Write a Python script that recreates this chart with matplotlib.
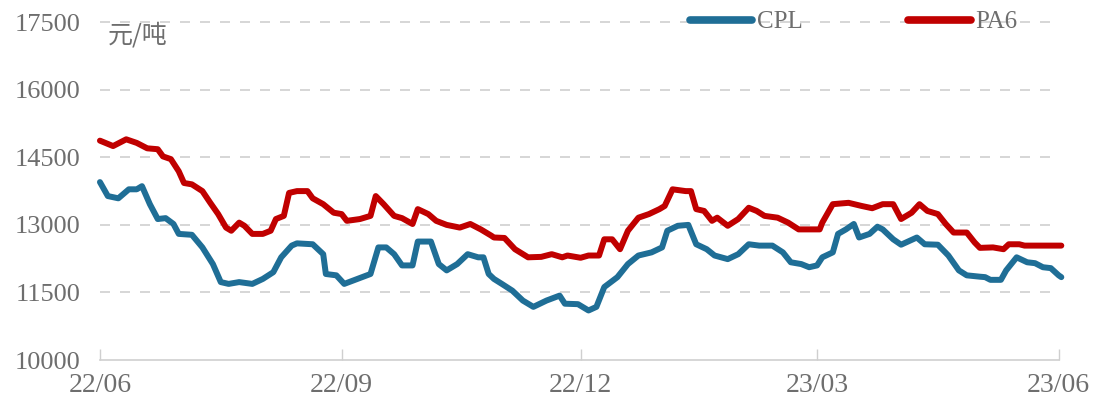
import numpy as np
import pandas as pd
import matplotlib
matplotlib.use("Agg")
import matplotlib.pyplot as plt

# days since 2022-06-01, values in 元/吨
pa6_day = [0, 5, 10, 14, 18, 22, 24, 27, 30, 32, 35, 39, 42, 45, 48, 50, 53, 55, 58, 62,
           65, 67, 70, 72, 75, 79, 81, 85, 89, 92, 94, 99, 103, 105, 108, 112, 115, 119, 121, 125,
           128, 132, 137, 141, 145, 149, 150, 154, 158, 163, 168, 172, 176, 178, 183, 186, 190, 192, 195, 198,
           201, 205, 209, 213, 215, 218, 223, 225, 227, 230, 233, 235, 239, 243, 247, 250, 253, 258, 262, 266,
           270, 274, 275, 279, 285, 290, 294, 298, 302, 305, 309, 312, 315, 319, 322, 325, 330, 333, 335, 340,
           344, 346, 350, 352, 366]
pa6_val = [14870, 14750, 14900, 14820, 14700, 14680, 14520, 14460, 14190, 13930, 13900, 13750, 13490, 13240, 12940, 12870, 13050, 12980, 12800, 12800,
           12870, 13130, 13200, 13710, 13750, 13750, 13590, 13460, 13270, 13240, 13090, 13130, 13200, 13640, 13460, 13200, 13150, 13020, 13350, 13240,
           13090, 13000, 12940, 13020, 12900, 12760, 12720, 12710, 12460, 12280, 12290, 12350, 12280, 12320, 12270, 12320, 12320, 12680, 12680, 12460,
           12870, 13160, 13240, 13350, 13420, 13790, 13750, 13750, 13350, 13310, 13090, 13160, 12980, 13130, 13380, 13310, 13200, 13160, 13050, 12900,
           12900, 12900, 13050, 13460, 13490, 13420, 13370, 13460, 13460, 13130, 13270, 13460, 13310, 13240, 13020, 12830, 12830, 12610, 12490, 12500,
           12460, 12570, 12570, 12540, 12540]

cpl_day = [0, 3, 7, 11, 14, 16, 19, 22, 25, 28, 30, 35, 39, 43, 46, 49, 53, 58, 62, 66,
           69, 73, 75, 81, 85, 86, 90, 93, 98, 103, 106, 109, 112, 115, 119, 121, 126, 129, 132, 136,
           140, 144, 146, 148, 150, 153, 157, 161, 165, 170, 175, 177, 182, 186, 189, 192, 197, 201, 205, 210,
           214, 216, 220, 224, 227, 231, 234, 239, 243, 247, 251, 256, 260, 263, 267, 270, 273, 275, 279, 281,
           284, 287, 289, 293, 296, 298, 302, 305, 311, 314, 319, 323, 327, 330, 335, 337, 339, 343, 345, 349,
           353, 356, 359, 362, 365, 366]
cpl_val = [13950, 13640, 13590, 13790, 13790, 13860, 13460, 13130, 13150, 13020, 12800, 12780, 12500, 12130, 11730, 11690, 11730, 11690, 11800, 11950,
           12280, 12540, 12590, 12570, 12350, 11910, 11880, 11690, 11800, 11910, 12500, 12500, 12350, 12100, 12100, 12630, 12630, 12130, 11990, 12130,
           12350, 12280, 12280, 11910, 11800, 11690, 11540, 11320, 11180, 11320, 11430, 11250, 11240, 11100, 11180, 11620, 11840, 12130, 12320, 12390,
           12500, 12870, 12980, 13000, 12570, 12460, 12320, 12240, 12350, 12570, 12540, 12540, 12390, 12170, 12130, 12060, 12100, 12280, 12390, 12800,
           12900, 13020, 12720, 12800, 12960, 12900, 12680, 12560, 12720, 12570, 12560, 12320, 11990, 11880, 11850, 11840, 11780, 11780, 11990, 12280,
           12170, 12150, 12060, 12040, 11880, 11840]

tick_dates = ["2022-06-01", "2022-09-01", "2022-12-01", "2023-03-01", "2023-06-01"]
tick_labels = ["22/06", "22/09", "22/12", "23/03", "23/06"]
y_ticks = [10000, 11500, 13000, 14500, 16000, 17500]

start = pd.Timestamp("2022-06-01")
pa6_x = start + pd.to_timedelta(pa6_day, unit="D")
cpl_x = start + pd.to_timedelta(cpl_day, unit="D")

grey = "#6E6E6E"
serif = "Liberation Serif"

fig = plt.figure(figsize=(11.02, 4.08), dpi=100)
ax = fig.add_axes([0.0907, 0.1176, 0.870, 0.828])

ax.plot(cpl_x, cpl_val, color="#1F6E96", lw=4.3, label="CPL", solid_capstyle="round",
        solid_joinstyle="round", clip_on=False, zorder=3)
ax.plot(pa6_x, pa6_val, color="#C00000", lw=4.3, label="PA6", solid_capstyle="round",
        solid_joinstyle="round", clip_on=False, zorder=3)

ax.set_ylim(10000, 17500)
ax.set_yticks(y_ticks)
ax.set_xlim(pd.Timestamp(tick_dates[0]), pd.Timestamp(tick_dates[-1]))
ax.set_xticks(pd.to_datetime(tick_dates))
ax.set_xticklabels(tick_labels)

for y in y_ticks[1:]:
    ax.axhline(y, color="#D0D0D0", lw=1.2, ls=(0, (6, 6)), zorder=1, clip_on=False)

for s in ["left", "right", "top"]:
    ax.spines[s].set_visible(False)
ax.spines["bottom"].set_color("#CFCFCF")
ax.spines["bottom"].set_linewidth(1.2)

ax.tick_params(axis="y", length=0, pad=14, labelsize=19, labelcolor=grey)
ax.tick_params(axis="x", direction="in", length=8, width=1, color="#CFCFCF",
               pad=9, labelsize=20, labelcolor=grey)
for lab in ax.get_xticklabels() + ax.get_yticklabels():
    lab.set_family(serif)

fig.text(0.098, 0.912, "元/吨", fontsize=18, color=grey, va="center", ha="left",
         family=["Noto Sans CJK SC", "DejaVu Sans"])

leg = ax.legend(loc="center left", bbox_to_anchor=(0.626, 1 - 22 / 408), bbox_transform=fig.transFigure,
                ncol=2, frameon=False, handlelength=2.5, handletextpad=0.2, columnspacing=4.2,
                borderpad=0, borderaxespad=0, prop={"family": serif, "size": 18})
for t in leg.get_texts():
    t.set_color(grey)
for h in leg.legend_handles:
    h.set_linewidth(5.5)

fig.savefig("out.png", dpi=100)
